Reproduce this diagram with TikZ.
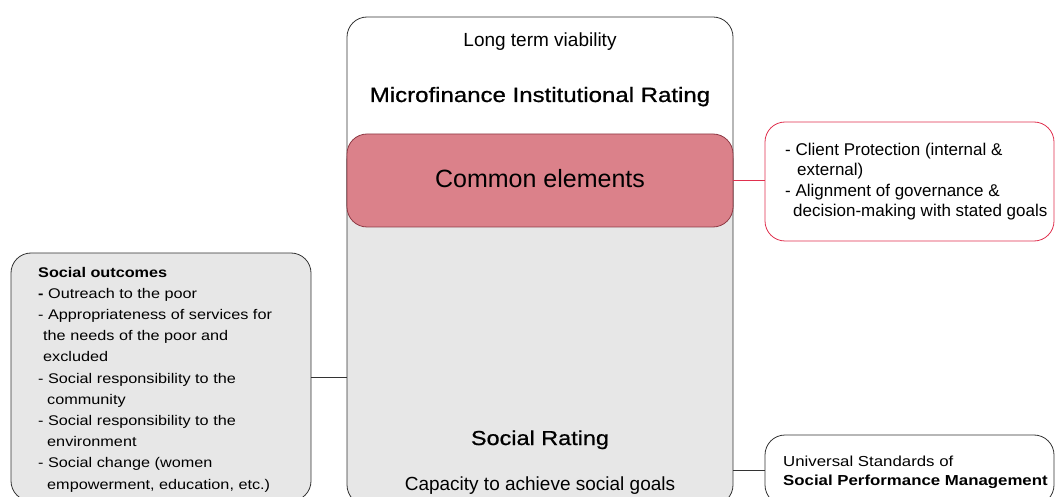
\documentclass[tikz,border=0pt]{standalone}
\usepackage{fontspec}
\setmainfont{Liberation Sans}
\newfontfamily\widesans[FakeStretch=1.16]{Liberation Sans}
\newfontfamily\titlesans[FakeStretch=1.16, FakeBold=0.8]{Liberation Sans}
\definecolor{pinkfill}{HTML}{DB818A}
\definecolor{pinkline}{HTML}{8E3A45}
\definecolor{redline}{HTML}{E0304E}
\definecolor{boxgray}{HTML}{E7E7E7}
\begin{document}
\begin{tikzpicture}[x=1pt, y=-1pt,
panel/.style={draw=black!80, line width=0.8pt, rounded corners=20pt, inner sep=0pt},
link/.style={draw=black!80, line width=0.8pt},
words/.style={inner sep=0pt, align=left, anchor=north west}]
\clip (0,0) rectangle (1055,497);
\node[panel, fill=boxgray, minimum width=386pt, minimum height=365pt] (social) at (540,322.5) {};
\node[panel, fill=white, minimum width=386pt, minimum height=208pt] (mfr) at (540,121) {};
\node[panel, draw=pinkline, fill=pinkfill, minimum width=386pt, minimum height=93pt] (common) at (540,180.5) {};
\node[panel, draw=redline, fill=white, minimum width=289pt, minimum height=119pt] (protect) at (909.5,181.5) {};
\node[panel, fill=boxgray, minimum width=300pt, minimum height=248pt] (outcomes) at (161,377) {};
\node[panel, fill=white, minimum width=289pt, minimum height=70pt] (standards) at (909.5,470) {};
\node[inner sep=0pt, anchor=base, font=\fontsize{19}{23}\selectfont] (viability) at (540,47) {Long term viability};
\node[inner sep=0pt, anchor=base, font=\titlesans\fontsize{20.7}{25}\selectfont] (mfrlabel) at (540,102) {Microfinance Institutional Rating};
\node[inner sep=0pt, anchor=base, font=\fontsize{25}{30}\selectfont] (commonlabel) at (540,188) {Common elements};
\node[inner sep=0pt, anchor=base, font=\titlesans\fontsize{20.2}{24}\selectfont] (sociallabel) at (540,445) {Social Rating};
\node[inner sep=0pt, anchor=base, font=\fontsize{19}{23}\selectfont] (capacity) at (540,490) {Capacity to achieve social goals};
\node[words, font=\fontsize{17}{20.5}\selectfont] (protecttext) at (785,142.6) {- Client Protection (internal \&\\
\hspace{12pt}external)\\
- Alignment of governance \&\\
\hspace{8pt}decision-making with stated goals};
\node[words, font=\widesans\fontsize{14}{21.2}\selectfont] (outcomestext) at (38,266.8) {\textbf{Social outcomes}\\
\textbf{-} Outreach to the poor\\
- Appropriateness of services for\\
\hspace{5pt}the needs of the poor and\\
\hspace{5pt}excluded\\
- Social responsibility to the\\
\hspace{9pt}community\\
- Social responsibility to the\\
\hspace{9pt}environment\\
- Social change (women\\
\hspace{9pt}empowerment, education, etc.)};
\node[words, font=\widesans\fontsize{14.5}{19}\selectfont] (standardstext) at (783,455.4) {Universal Standards of\\
\textbf{Social Performance Management}};
\draw[link] (outcomes.east) -- (social.west |- outcomes.east);
\draw[link, draw=redline] (common.east) -- (protect.west |- common.east);
\draw[link] (social.east |- standards.west) -- (standards.west);
\end{tikzpicture}
\end{document}
